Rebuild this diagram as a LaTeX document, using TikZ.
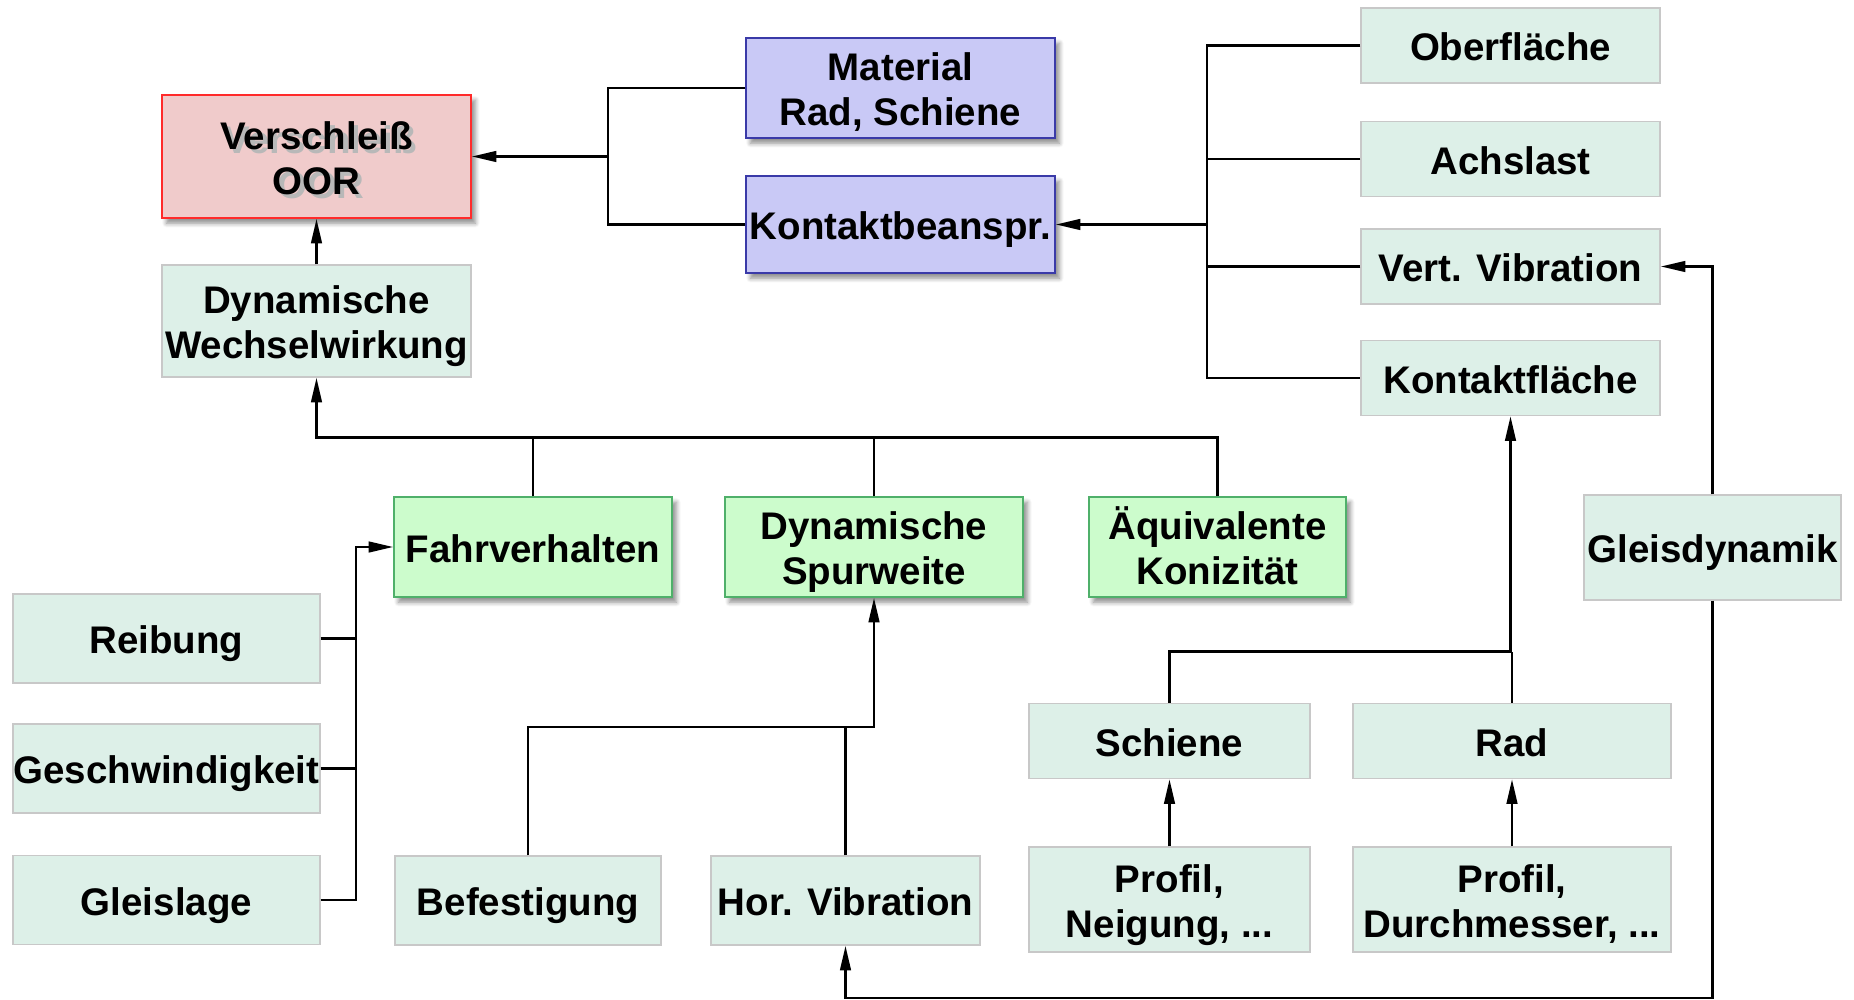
\documentclass[tikz,border=0pt]{standalone}
\usepackage{fontspec}
\setmainfont{Liberation Sans}
\usetikzlibrary{arrows.meta,shadows.blur}
\definecolor{pinkfill}{HTML}{F0CBCB}
\definecolor{redline}{HTML}{FF2A2A}
\definecolor{lilafill}{HTML}{C9C9F6}
\definecolor{blueline}{HTML}{3A3AA8}
\definecolor{greenfill}{HTML}{CCFCCC}
\definecolor{greenline}{HTML}{4FB06A}
\definecolor{mintfill}{HTML}{DDF0E8}
\definecolor{greyline}{HTML}{C8C8C8}
% eine Zeile mit fester Hoehe, ohne Unterlaengen
\newcommand\zl[1]{\rule{0pt}{0.8em}\smash{#1}}
\newcommand\shadowed[1]{\makebox[0pt][l]{\hspace{2.5pt}\raisebox{-2.5pt}{\textcolor{black!28}{#1}}}#1}
\tikzset{
  box/.style={rectangle, inner sep=0pt, align=center, line width=0.8pt,
    font=\fontsize{21.9}{25.5}\selectfont\bfseries},
  shade/.style={blur shadow={shadow xshift=2.5pt, shadow yshift=-3pt,
    shadow blur radius=2.5pt, shadow blur steps=6, shadow opacity=45}},
  mainbox/.style={box, shade, draw=redline, fill=pinkfill},
  lilabox/.style={box, shade, draw=blueline, fill=lilafill},
  greenbox/.style={box, shade, draw=greenline, fill=greenfill},
  mintbox/.style={box, draw=greyline, fill=mintfill},
  ln/.style={line width=1.5pt},
  arr/.style={ln, -{Triangle[length=14pt,width=6pt]}}
}
\begin{document}
\begin{tikzpicture}[x=0.02cm, y=-0.02cm]
  \useasboundingbox (0,0) rectangle (1854,1000);
  % Knoten oben
  \node[mainbox, minimum width=6.18cm, minimum height=2.46cm] (verschleiss) at (316.5,156.5) {\zl{\shadowed{Verschleiß}}\\\zl{\shadowed{OOR}}};
  \node[mintbox, minimum width=6.18cm, minimum height=2.24cm] (dynww) at (316.5,321) {\zl{Dynamische}\\\zl{Wechselwirkung}};
  \node[lilabox, minimum width=6.18cm, minimum height=2.0cm] (material) at (900.5,88) {\zl{Material}\\\zl{Rad, Schiene}};
  \node[lilabox, minimum width=6.18cm, minimum height=1.94cm] (kontakt) at (900.5,224.5) {\zl{Kontaktbeanspr.}};
  % rechte Spalte
  \node[mintbox, minimum width=5.98cm, minimum height=1.5cm] (oberflaeche) at (1510.5,45.5) {\zl{Oberfläche}};
  \node[mintbox, minimum width=5.98cm, minimum height=1.5cm] (achslast) at (1510.5,159) {\zl{Achslast}};
  \node[mintbox, minimum width=5.98cm, minimum height=1.5cm] (vertvib) at (1510.5,266.5) {\zl{Vert. Vibration}};
  \node[mintbox, minimum width=5.98cm, minimum height=1.5cm] (kontaktfl) at (1510.5,378) {\zl{Kontaktfläche}};
  % mittlere Reihe
  \node[greenbox, minimum width=5.56cm, minimum height=2.0cm] (fahrverhalten) at (533,547) {\zl{Fahrverhalten}};
  \node[greenbox, minimum width=5.96cm, minimum height=2.0cm] (spurweite) at (874,547) {\zl{Dynamische}\\\zl{Spurweite}};
  \node[greenbox, minimum width=5.14cm, minimum height=2.0cm] (konizitaet) at (1217.5,547) {\zl{Äquivalente}\\\zl{Konizität}};
  \node[mintbox, minimum width=5.14cm, minimum height=2.1cm] (gleisdyn) at (1712.5,547.5) {\zl{Gleisdynamik}};
  % untere Knoten
  \node[mintbox, minimum width=6.14cm, minimum height=1.78cm] (reibung) at (166.5,638.5) {\zl{Reibung}};
  \node[mintbox, minimum width=6.14cm, minimum height=1.78cm] (geschw) at (166.5,768.5) {\zl{Geschwindigkeit}};
  \node[mintbox, minimum width=6.14cm, minimum height=1.78cm] (gleislage) at (166.5,900) {\zl{Gleislage}};
  \node[mintbox, minimum width=5.32cm, minimum height=1.78cm] (befestigung) at (528,900.5) {\zl{Befestigung}};
  \node[mintbox, minimum width=5.38cm, minimum height=1.78cm] (horvib) at (845.5,900.5) {\zl{Hor. Vibration}};
  \node[mintbox, minimum width=5.62cm, minimum height=1.5cm] (schiene) at (1169.5,741) {\zl{Schiene}};
  \node[mintbox, minimum width=6.36cm, minimum height=1.5cm] (rad) at (1512,741) {\zl{Rad}};
  \node[mintbox, minimum width=5.62cm, minimum height=2.1cm] (profils) at (1169.5,899.5) {\zl{Profil,}\\\zl{Neigung, ...}};
  \node[mintbox, minimum width=6.36cm, minimum height=2.1cm] (profilr) at (1512,899.5) {\zl{Profil,}\\\zl{Durchmesser, ...}};
  % Verbindungspunkte
  \coordinate (jm) at (608,156.5);
  \coordinate (jr) at (1207,224.5);
  \coordinate (jd) at (316.5,437.5);
  \coordinate (jl) at (356,547);
  \coordinate (js) at (874,727);
  \coordinate (jk) at (1510.5,651.5);
  \coordinate (jg) at (1712.5,998);
  % Kanten
  \draw[ln] (material.west) -| (jm) |- (kontakt.west);
  \draw[arr] (jm) -- (verschleiss.east);
  \draw[arr] (dynww.north) -- (verschleiss.south);
  \draw[ln] (oberflaeche.west) -| (jr) |- (kontaktfl.west);
  \draw[ln] (achslast.west) -- (achslast.west -| jr);
  \draw[ln] (vertvib.west) -- (vertvib.west -| jr);
  \draw[arr] (jr) -- (kontakt.east);
  \draw[arr] (konizitaet.north) |- (jd) -- (dynww.south);
  \draw[ln] (fahrverhalten.north) -- (fahrverhalten.north |- jd);
  \draw[ln] (spurweite.north) -- (spurweite.north |- jd);
  \draw[arr] (gleislage.east) -| (jl) -- (fahrverhalten.west);
  \draw[ln] (reibung.east) -- (reibung.east -| jl);
  \draw[ln] (geschw.east) -- (geschw.east -| jl);
  \draw[arr] (befestigung.north) |- (js) -- (spurweite.south);
  \draw[ln] (horvib.north) -- (horvib.north |- js);
  \draw[arr] (schiene.north) |- (jk) -- (kontaktfl.south);
  \draw[ln] (rad.north) -- (rad.north |- jk);
  \draw[arr] (profils.north) -- (schiene.south);
  \draw[arr] (profilr.north) -- (rad.south);
  \draw[arr] (gleisdyn.north) |- (vertvib.east);
  \draw[arr] (gleisdyn.south) -- (jg) -| (horvib.south);
\end{tikzpicture}
\end{document}
